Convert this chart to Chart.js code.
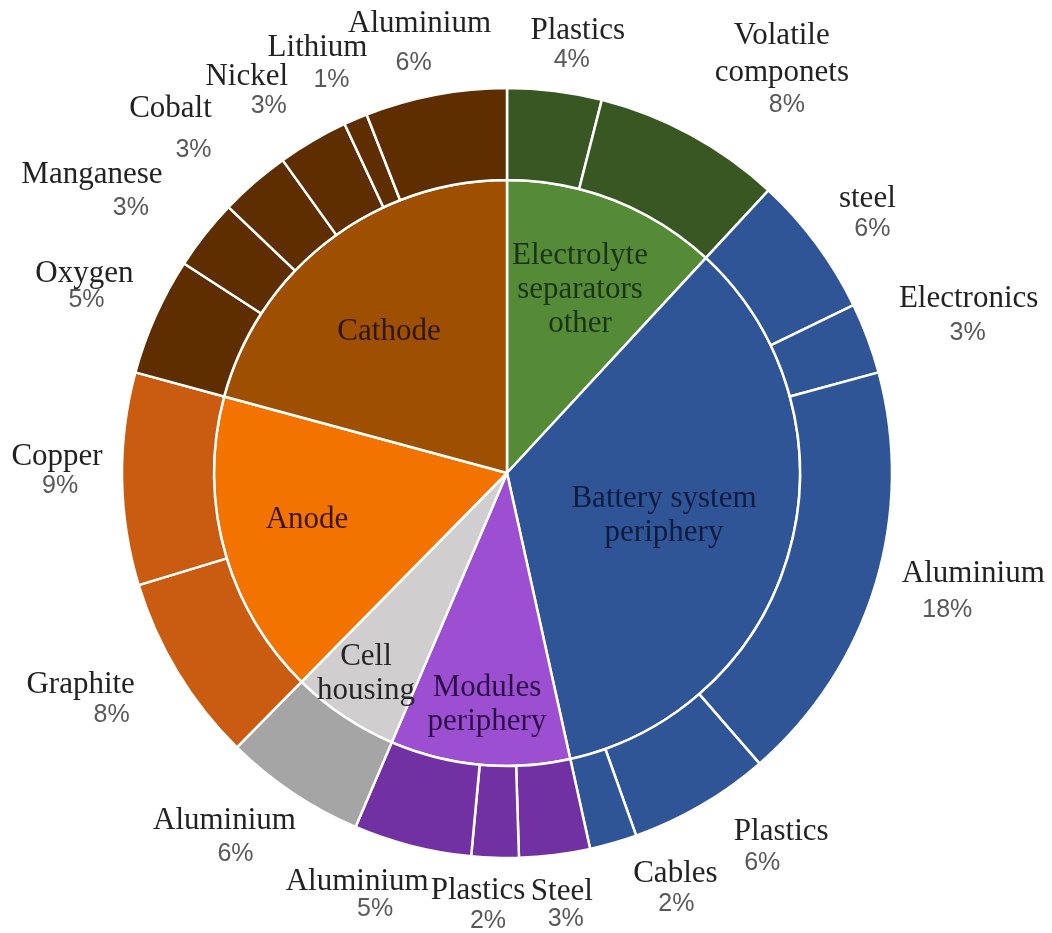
<!DOCTYPE html>
<html>
<head>
<meta charset="utf-8">
<title>Battery pack material composition</title>
<script src="https://cdn.jsdelivr.net/npm/chart.js@4.4.1/dist/chart.umd.min.js"></script>
<style>
  html, body { margin: 0; padding: 0; background: #ffffff; }
  #wrap { width: 1052px; height: 933px; }
</style>
</head>
<body>
<div id="wrap"><canvas id="chart" width="1052" height="933"></canvas></div>
<script>
// Outer ring: materials, clockwise from 12 o'clock (share of pack mass, %)
const materialLabels = [
  'Plastics', 'Volatile\ncomponets', 'steel', 'Electronics', 'Aluminium',
  'Plastics', 'Cables', 'Steel', 'Plastics', 'Aluminium',
  'Aluminium', 'Graphite', 'Copper', 'Oxygen', 'Manganese',
  'Cobalt', 'Nickel', 'Lithium', 'Aluminium'
];
const materialValues = [4, 8, 6, 3, 18, 6, 2, 3, 2, 5, 6, 8, 9, 5, 3, 3, 3, 1, 6];
const materialColors = [
  '#385723', '#385723',
  '#2f5597', '#2f5597', '#2f5597', '#2f5597', '#2f5597',
  '#7131a3', '#7131a3', '#7131a3',
  '#a5a5a5',
  '#c95c10', '#c95c10',
  '#5e2e00', '#5e2e00', '#5e2e00', '#5e2e00', '#5e2e00', '#5e2e00'
];

// Inner pie: components
const componentLabels = [
  'Electrolyte\nseparators\nother', 'Battery system\nperiphery', 'Modules\nperiphery',
  'Cell\nhousing', 'Anode', 'Cathode'
];
const componentValues = [12, 35, 10, 6, 17, 21];
const componentColors = ['#558a36', '#2f5597', '#9c4fd0', '#d0cece', '#f27300', '#9e5000'];
const componentTextColors = ['#1a3410', '#0c1c40', '#2c0b48', '#262626', '#3a1800', '#2e1500'];

// Label placement: [nameDx, nameDy, pctDx, pctDy] from the outer edge at each slice's mid-angle
const materialLabelNudges = [
  [23, -60, 17, -31],
  [91, -99, 96, -30],
  [51, -45, 56, -15],
  [101, -39, 100, -5],
  [98, -11, 72, 25],
  [80, 26, 61, 58],
  [62, 31, 63, 61],
  [7, 37, 11, 64],
  [-17, 33, -7, 63],
  [-55, 36, -37, 63],
  [-68, 28, -57, 61],
  [-97, 12, -66, 43],
  [-65, -22, -62, 7],
  [-71, -42, -69, -16],
  [-113, -59, -74, -26],
  [-84, -74, -61, -32],
  [-66, -64, -44, -34],
  [-38, -71, -24, -39],
  [-16, -71, -22, -32]
];
// Component label first-line position relative to the pie centre
const componentLabelNudges = [
  [73, -217], [157, 26], [-20, 215], [-141, 184], [-200, 47], [-118, -141]
];

const NAME_FONT = '31px "Liberation Serif", "Times New Roman", serif';
const PCT_FONT = '25px "Liberation Sans", Arial, sans-serif';

const ringLabels = {
  id: 'ringLabels',
  afterDatasetsDraw(chart) {
    const ctx = chart.ctx;
    ctx.save();
    ctx.textAlign = 'center';
    ctx.textBaseline = 'middle';

    const outerArcs = chart.getDatasetMeta(0).data;
    outerArcs.forEach((arc, i) => {
      const p = arc.getProps(['x', 'y', 'startAngle', 'endAngle', 'outerRadius'], true);
      const mid = (p.startAngle + p.endAngle) / 2;
      const ex = p.x + p.outerRadius * Math.cos(mid);
      const ey = p.y + p.outerRadius * Math.sin(mid);
      const [nx, ny, px, py] = materialLabelNudges[i];
      ctx.font = NAME_FONT;
      ctx.fillStyle = '#222222';
      materialLabels[i].split('\n').forEach((line, k) => {
        ctx.fillText(line, ex + nx, ey + ny + k * 37);
      });
      ctx.font = PCT_FONT;
      ctx.fillStyle = '#595959';
      ctx.fillText(materialValues[i] + '%', ex + px, ey + py);
    });

    const innerArcs = chart.getDatasetMeta(1).data;
    innerArcs.forEach((arc, i) => {
      const p = arc.getProps(['x', 'y'], true);
      const [dx, dy] = componentLabelNudges[i];
      ctx.font = NAME_FONT;
      ctx.fillStyle = componentTextColors[i];
      componentLabels[i].split('\n').forEach((line, k) => {
        ctx.fillText(line, p.x + dx, p.y + dy + k * 34);
      });
    });
    ctx.restore();
  }
};

new Chart(document.getElementById('chart'), {
  type: 'doughnut',
  data: {
    labels: materialLabels,
    datasets: [
      {
        data: materialValues,
        backgroundColor: materialColors,
        borderColor: '#ffffff',
        borderWidth: 2.5,
        weight: 92
      },
      {
        data: componentValues,
        backgroundColor: componentColors,
        borderColor: '#ffffff',
        borderWidth: 2.5,
        weight: 293
      }
    ]
  },
  options: {
    responsive: false,
    animation: false,
    cutout: 0,
    radius: 385,
    layout: { padding: { left: 122, right: 160, top: 88, bottom: 75 } },
    plugins: {
      legend: { display: false },
      tooltip: { enabled: false }
    },
    events: []
  },
  plugins: [ringLabels]
});
</script>
</body>
</html>
